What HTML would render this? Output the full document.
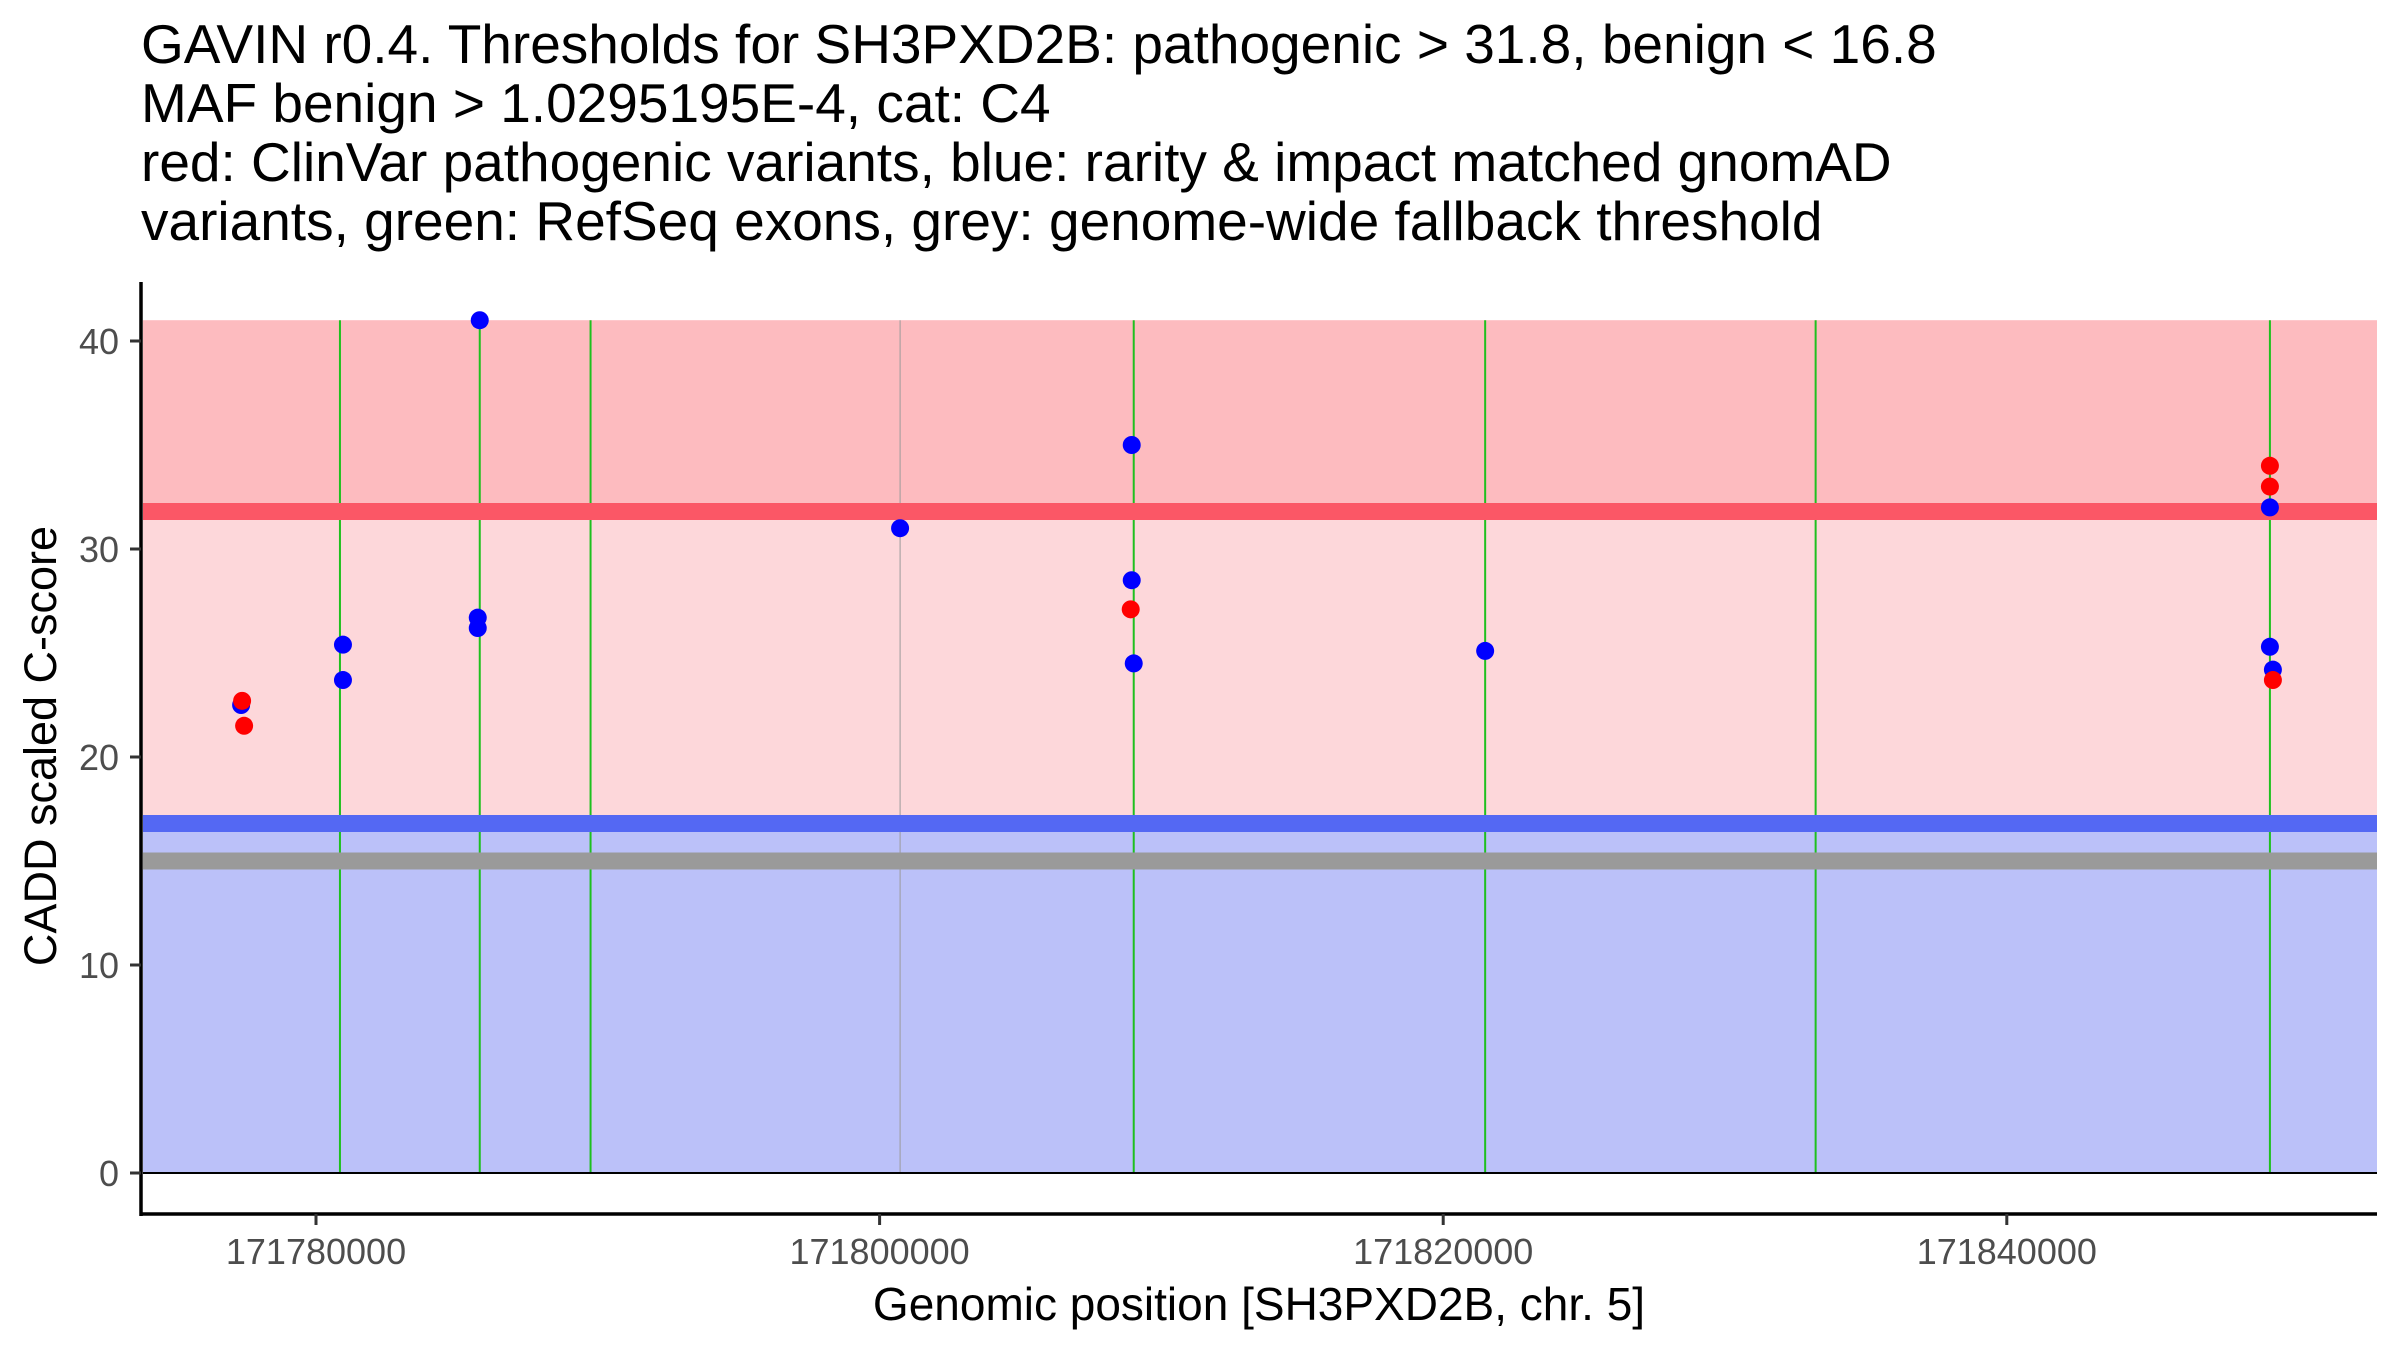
<!DOCTYPE html>
<html><head><meta charset="utf-8"><style>
html,body{margin:0;padding:0;background:#fff;}
svg{display:block;font-family:"Liberation Sans",Arial,sans-serif;}
</style></head><body>
<svg id="chart" width="2400" height="1350" viewBox="0 0 2400 1350" xmlns="http://www.w3.org/2000/svg">
<g font-size="55" fill="#000">
<text x="141" y="63">GAVIN r0.4. Thresholds for SH3PXD2B: pathogenic &gt; 31.8, benign &lt; 16.8</text>
<text x="141" y="122">MAF benign &gt; 1.0295195E-4, cat: C4</text>
<text x="141" y="181">red: ClinVar pathogenic variants, blue: rarity &amp; impact matched gnomAD</text>
<text x="141" y="240">variants, green: RefSeq exons, grey: genome-wide fallback threshold</text>
</g>
<g id="bg"></g>
<g id="exons"></g>
<g id="bands"></g>
<g id="points"></g>
<g id="axes"></g>
<text x="1259" y="1320" font-size="46" text-anchor="middle" fill="#000">Genomic position [SH3PXD2B, chr. 5]</text>
<text transform="translate(56,746) rotate(-90)" font-size="45" text-anchor="middle" fill="#000">CADD scaled C-score</text>
</svg>
<script>
const pathoThreshold = 31.8;
const benignThreshold = 16.8;
const fallbackThreshold = 15;
const maxScore = 41;
const xTicks = [171780000, 171800000, 171820000, 171840000];
const yTicks = [0, 10, 20, 30, 40];
const exonPositions = [171780850, 171785811, 171789743, 171809018, 171821489, 171833216, 171849337];
const fallbackLinePos = [171800727];
const benignPos = [171777343, 171780957, 171780957, 171785811, 171785740, 171785740, 171800727, 171808947, 171808947, 171809018, 171821489, 171849337, 171849337, 171849443];
const benignScores = [22.5, 25.4, 23.7, 41, 26.7, 26.2, 31.0, 35.0, 28.5, 24.5, 25.1, 32.0, 25.3, 24.2];
const pathoPos = [171777378, 171777449, 171808911, 171849337, 171849337, 171849443];
const pathoScores = [22.7, 21.5, 27.1, 34.0, 33.0, 23.7];

const NS = "http://www.w3.org/2000/svg";
const L = 143, R = 2377, T = 300, B = 1214;
const xMin = 171773861, xMax = 171853137;
function xs(v){ return L + (v - xMin) / (xMax - xMin) * (R - L); }
function ys(v){ return 1173 - v * 20.8; }
function mk(tag, attrs, parent){
  const e = document.createElementNS(NS, tag);
  for (const k in attrs) e.setAttribute(k, attrs[k]);
  document.getElementById(parent).appendChild(e);
  return e;
}
let e;
e = mk('rect', {x:L, y:ys(maxScore), width:R-L, height:ys(pathoThreshold)-ys(maxScore), fill:'#FDBBBF'}, 'bg');


e = mk('rect', {x:L, y:ys(pathoThreshold), width:R-L, height:ys(benignThreshold)-ys(pathoThreshold), fill:'#FDD7DA'}, 'bg');


e = mk('rect', {x:L, y:ys(benignThreshold), width:R-L, height:ys(0)-ys(benignThreshold), fill:'#BBC1F9'}, 'bg');


exonPositions.forEach(p => {
  const l = mk('line', {x1:xs(p), x2:xs(p), y1:ys(maxScore), y2:ys(0), stroke:'#1EC01E', 'stroke-width':2}, 'exons');
  
  
});
fallbackLinePos.forEach(p => {
  const l = mk('line', {x1:xs(p), x2:xs(p), y1:ys(maxScore), y2:ys(0), stroke:'#9A9A9A', 'stroke-width':1}, 'exons');
  
  
});
e = mk('line', {x1:L, x2:R, y1:ys(pathoThreshold), y2:ys(pathoThreshold), stroke:'#FB5766', 'stroke-width':17}, 'bands');


e = mk('line', {x1:L, x2:R, y1:ys(benignThreshold), y2:ys(benignThreshold), stroke:'#5468F3', 'stroke-width':17}, 'bands');


e = mk('line', {x1:L, x2:R, y1:ys(fallbackThreshold), y2:ys(fallbackThreshold), stroke:'#9A9A9A', 'stroke-width':17}, 'bands');


e = mk('line', {x1:L, x2:R, y1:ys(0), y2:ys(0), stroke:'#000', 'stroke-width':2}, 'bands');


benignPos.forEach((p, i) => {
  const c = mk('circle', {cx:xs(p), cy:ys(benignScores[i]), r:9, fill:'#0000FF'}, 'points');
  
  
});
pathoPos.forEach((p, i) => {
  const c = mk('circle', {cx:xs(p), cy:ys(pathoScores[i]), r:9, fill:'#FF0000'}, 'points');
  
  
});
e = mk('line', {x1:141, x2:141, y1:282, y2:B+2, stroke:'#000', 'stroke-width':3.5}, 'axes');


e = mk('line', {x1:139.5, x2:R, y1:B, y2:B, stroke:'#000', 'stroke-width':3.5}, 'axes');


yTicks.forEach(v => {
  const t = mk('line', {x1:130, x2:141, y1:ys(v), y2:ys(v), stroke:'#333', 'stroke-width':3}, 'axes');
  
  
  const tx = mk('text', {x:119, y:ys(v)+13, 'font-size':36, 'text-anchor':'end', fill:'#4D4D4D'}, 'axes');
  tx.textContent = String(v);
  
  
});
xTicks.forEach(v => {
  const t = mk('line', {x1:xs(v), x2:xs(v), y1:B, y2:B+11, stroke:'#333', 'stroke-width':3}, 'axes');
  
  
  const tx = mk('text', {x:xs(v), y:B+50, 'font-size':36, 'text-anchor':'middle', fill:'#4D4D4D'}, 'axes');
  tx.textContent = String(v);
  
  
});
</script>
</body></html>
